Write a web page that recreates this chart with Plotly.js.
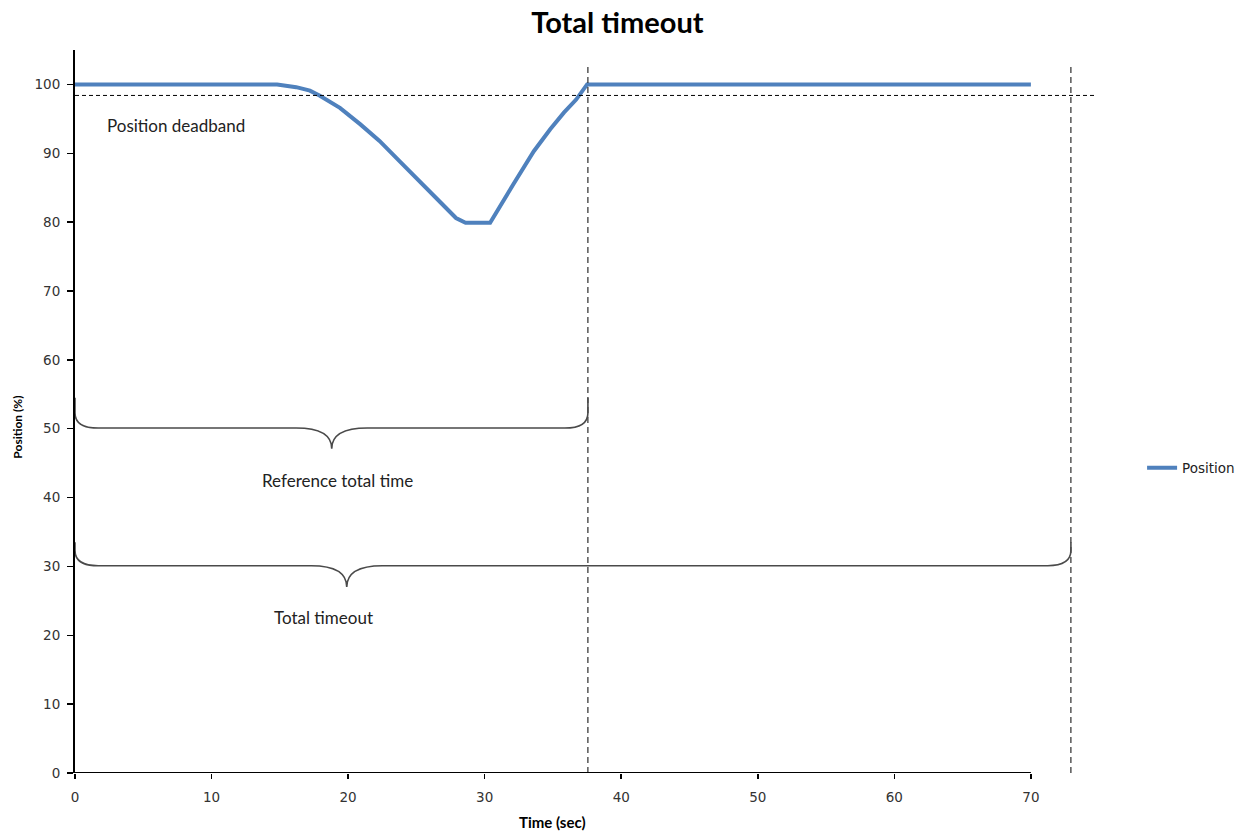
<!DOCTYPE html>
<html>
<head>
<meta charset="utf-8">
<script src="https://cdn.plot.ly/plotly-3.0.1.min.js"></script>
<style>html,body{margin:0;padding:0;background:#fff}#chart{width:1260px;height:833px}</style>
</head>
<body>
<div id="chart"></div>
<script>
// Data
const timeSec = [0, 5, 10, 14.8, 16.2, 17.2, 17.9, 19.4, 20.9, 22.3, 23.8, 25.3, 26.7, 27.9, 28.6, 30.4, 31.1, 32.1, 33.6, 34.8, 35.8, 36.7, 37.5, 45, 55, 65, 70];
const positionPct = [100, 100, 100, 100, 99.6, 99.1, 98.4, 96.6, 94.2, 91.8, 88.8, 85.9, 83.0, 80.6, 79.9, 79.9, 82.1, 85.5, 90.3, 93.5, 95.9, 97.8, 100, 100, 100, 100, 100];
const xTicks = [0, 10, 20, 30, 40, 50, 60, 70];
const yTicks = [0, 10, 20, 30, 40, 50, 60, 70, 80, 90, 100];

// Annotation values
const deadband = 98.4;
const refTotalTime = 37.56;
const totalTimeout = 72.93;
const xAxisEnd = 70;

function bracePath(x0, x1, yTop, yMid, yTip, xTip) {
  const dx = 1.7, dTip = 2.6, dy = 2.2;
  return `M ${x0},${yTop} L ${x0},${yMid + dy} Q ${x0},${yMid} ${x0 + dx},${yMid} ` +
         `L ${xTip - dTip},${yMid} Q ${xTip},${yMid} ${xTip},${yTip} ` +
         `Q ${xTip},${yMid} ${xTip + dTip},${yMid} L ${x1 - dx},${yMid} ` +
         `Q ${x1},${yMid} ${x1},${yMid + dy} L ${x1},${yTop}`;
}

const trace = {
  x: timeSec, y: positionPct, type: 'scatter', mode: 'lines', name: 'Position',
  line: {color: '#4F81BD', width: 4}
};

const tickFont = {family: '"DejaVu Sans", Verdana, sans-serif', size: 13.5, color: '#333'};
const annFont = {family: 'Lato, "Open Sans", sans-serif', size: 17, color: '#222'};
const braceLine = {color: '#4a4a4a', width: 1.6};
const layout = {
  width: 1260, height: 833,
  margin: {l: 75, r: 154, t: 50, b: 60},
  paper_bgcolor: '#fff', plot_bgcolor: '#fff',
  font: {family: 'Lato, "Open Sans", sans-serif', color: '#222', size: 14},
  title: {text: 'Total timeout', x: 0.49, xanchor: 'center', y: 0.973, yanchor: 'middle',
          font: {family: 'Lato, "Open Sans", sans-serif', size: 29, color: '#000', weight: 'bold'}},
  xaxis: {range: [0, 75.5], tickvals: xTicks, ticktext: xTicks.map(String),
          showgrid: false, zeroline: false, showline: false,
          ticks: 'outside', ticklen: 5, tickcolor: '#000', tickwidth: 1.5,
          ticklabelstandoff: 7, tickfont: tickFont},
  yaxis: {range: [0, 105], tickvals: yTicks, showgrid: false, zeroline: false,
          showline: true, linecolor: '#000', linewidth: 2,
          ticks: 'outside', ticklen: 6, tickcolor: '#000', tickwidth: 1.5,
          ticklabelstandoff: 4, tickfont: tickFont},
  legend: {x: 1.035, xanchor: 'left', y: 0.422, yanchor: 'middle',
           font: {family: '"DejaVu Sans", Verdana, sans-serif', size: 13.5, color: '#222'},
           bgcolor: 'rgba(0,0,0,0)'},
  showlegend: true,
  shapes: [
    {type: 'line', xref: 'x', yref: 'y', x0: 0, x1: xAxisEnd, y0: 0, y1: 0, line: {color: '#000', width: 2}},
    {type: 'line', xref: 'x', yref: 'y', x0: 0, x1: 74.8, y0: deadband, y1: deadband, line: {color: '#000', width: 1, dash: '4px,3px'}},
    {type: 'line', xref: 'x', yref: 'y', x0: refTotalTime, x1: refTotalTime, y0: 0, y1: 103, line: {color: '#000', width: 1, dash: '6px,4px'}},
    {type: 'line', xref: 'x', yref: 'y', x0: totalTimeout, x1: totalTimeout, y0: 0, y1: 103, line: {color: '#000', width: 1, dash: '6px,4px'}},
    {type: 'path', xref: 'x', yref: 'y', path: bracePath(0, refTotalTime, 54.5, 50.1, 47.1, 18.8), line: braceLine},
    {type: 'path', xref: 'x', yref: 'y', path: bracePath(0, totalTimeout, 33.5, 30.1, 27.0, 19.9), line: braceLine}
  ],
  annotations: [
    {x: 7.4, y: 94.0, xref: 'x', yref: 'y', text: 'Position deadband', showarrow: false, font: annFont},
    {x: 19.2, y: 42.5, xref: 'x', yref: 'y', text: 'Reference total time', showarrow: false, font: annFont},
    {x: 18.2, y: 22.6, xref: 'x', yref: 'y', text: 'Total timeout', showarrow: false, font: annFont},
    {x: 35, y: -0.068, xref: 'x', yref: 'paper', yanchor: 'middle', text: 'Time (sec)', showarrow: false,
     font: {family: 'Lato, sans-serif', size: 15, color: '#000', weight: 'bold'}},
    {x: -0.0553, y: 50.3, xref: 'paper', yref: 'y', xanchor: 'center', text: 'Position (%)', textangle: -90, showarrow: false,
     font: {family: 'Lato, sans-serif', size: 12, color: '#000', weight: 'bold'}}
  ]
};

Plotly.newPlot('chart', [trace], layout, {displayModeBar: false, staticPlot: true});
</script>
</body>
</html>
